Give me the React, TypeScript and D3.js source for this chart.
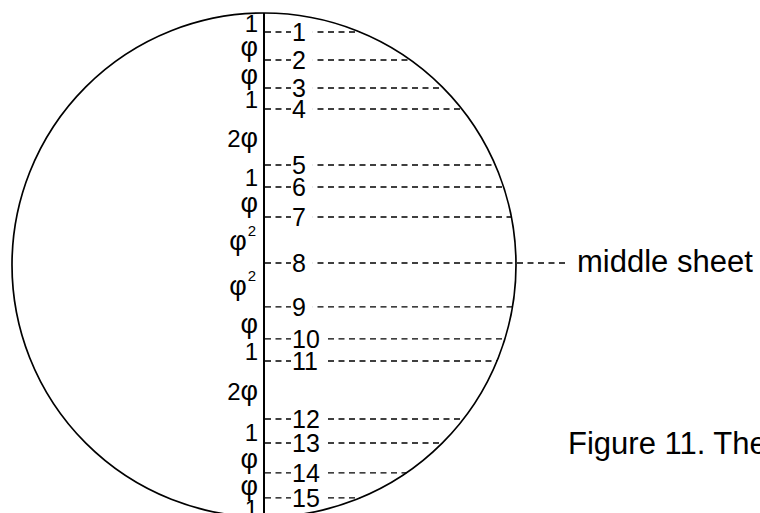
import React from "react";
import * as d3 from "d3";

// Sheet boundary positions (in units, 0 = top of the circle)
const sheetNumbers = ["1", "2", "3", "4", "5", "6", "7", "8", "9", "10", "11", "12", "13", "14", "15"];
const sheetPositions = [1.03, 2.56, 4.08, 5.22, 8.27, 9.47, 11.1, 13.6, 15.99, 17.73, 18.93, 22.09, 23.39, 25.02, 26.38];
// Interval labels between successive sheets (top to bottom)
const intervalLabels = ["1", "φ", "φ", "1", "2φ", "1", "φ", "φ²", "φ²", "φ", "1", "2φ", "1", "φ", "φ", "1"];
const diameter = 27.42;
const middleSheet = "8";
const middleLabel = "middle sheet";
const caption = "Figure 11. The";

const W = 760;
const H = 513;
const FONT = "'Liberation Sans', Arial, Helvetica, sans-serif";

function renderLabel(lab: string) {
  // split into characters, enlarge phi, superscript the 2
  const parts: React.ReactNode[] = [];
  let k = 0;
  for (const ch of lab) {
    if (ch === "φ") {
      parts.push(
        <tspan key={k++} fontSize={27}>
          φ
        </tspan>
      );
    } else if (ch === "²") {
      parts.push(
        <tspan key={k++} fontSize={15} dy={-14} dx={1}>
          2
        </tspan>
      );
    } else {
      parts.push(<tspan key={k++}>{ch}</tspan>);
    }
  }
  return parts;
}

export default function App() {
  const R = diameter / 2;
  const x = d3.scaleLinear().domain([-R, R]).range([12, 516]);
  const y = d3.scaleLinear().domain([0, diameter]).range([13, 517]);
  const cx = x(0);
  const cy = y(R);
  const rPx = x(R) - x(0);

  const bounds = [0, ...sheetPositions, diameter];

  return (
    <svg
      width={W}
      height={H}
      viewBox={`0 0 ${W} ${H}`}
      style={{ position: "absolute", left: 0, top: 0, background: "#fff" }}
      fontFamily={FONT}
    >
      <rect x={0} y={0} width={W} height={H} fill="#fff" />
      {/* dashed sheet lines */}
      {sheetPositions.map((p, i) => {
        const half = Math.sqrt(Math.max(0, R * R - (p - R) * (p - R)));
        const isMiddle = sheetNumbers[i] === middleSheet;
        const xEnd = isMiddle ? 565 : x(half);
        return (
          <line
            key={"l" + i}
            x1={cx + 1}
            x2={xEnd}
            y1={y(p)}
            y2={y(p)}
            stroke="#000"
            strokeWidth={1.4}
            strokeDasharray="6,4.5"
          />
        );
      })}
      {/* circle */}
      <circle cx={cx} cy={cy} r={rPx} fill="none" stroke="#000" strokeWidth={1.7} />
      {/* vertical axis */}
      <line x1={cx} x2={cx} y1={y(0)} y2={y(diameter)} stroke="#000" strokeWidth={2} />
      {/* sheet numbers */}
      {sheetPositions.map((p, i) => {
        const label = sheetNumbers[i];
        const yy = y(p);
        return (
          <g key={"n" + i}>
            <rect x={291} y={yy - 3} width={label.length * 13.9 + 8} height={6} fill="#fff" />
            <text x={292} y={yy + 9} fontSize={25} fill="#000">
              {label}
            </text>
          </g>
        );
      })}
      {/* interval labels */}
      {intervalLabels.map((lab, i) => {
        const mid = y((bounds[i] + bounds[i + 1]) / 2);
        const sq = lab.endsWith("²");
        return (
          <text key={"i" + i} x={sq ? 256 : 258} y={mid + 10} fontSize={24} textAnchor="end" fill="#000">
            {renderLabel(lab)}
          </text>
        );
      })}
      <text x={577} y={272} fontSize={31} fill="#000">
        {middleLabel}
      </text>
      <text x={568} y={454} fontSize={31} fill="#000">
        {caption}
      </text>
    </svg>
  );
}
